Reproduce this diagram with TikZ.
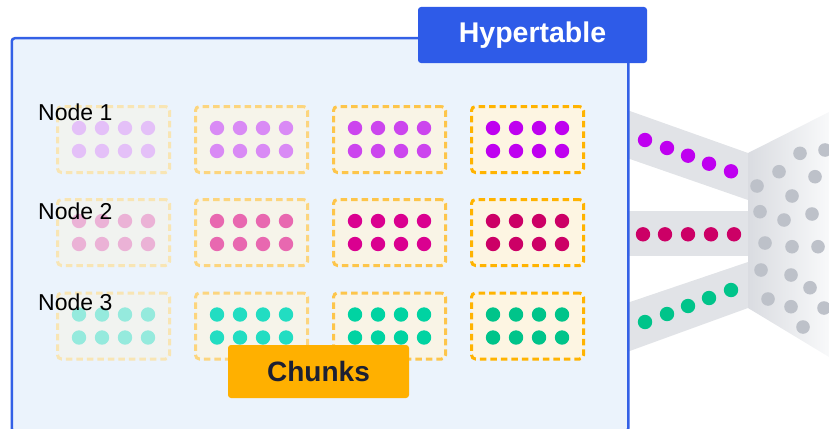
\documentclass[tikz,border=0pt]{standalone}
\usepackage{fontspec}
\setmainfont{Liberation Sans}
% panel colours
\definecolor{panelfill}{HTML}{EBF3FC}
\definecolor{panelline}{HTML}{3360E6}
\definecolor{tagblue}{HTML}{2E5BE8}
\definecolor{tagorange}{HTML}{FFB000}
\definecolor{tagtext}{HTML}{1C2033}
\definecolor{bandgray}{HTML}{E1E3E7}
\definecolor{funnelgray}{HTML}{DADCE1}
\definecolor{funnelend}{HTML}{F8F9FA}
\definecolor{pebble}{HTML}{BDC1C9}
% chunk borders and fills, from old (1) to new (4)
\definecolor{bd1}{HTML}{F8E5B4}
\definecolor{bd2}{HTML}{FCD57E}
\definecolor{bd3}{HTML}{FDC54A}
\definecolor{bd4}{HTML}{FFB300}
\definecolor{bg1}{HTML}{F1F3F0}
\definecolor{bg2}{HTML}{F6F4EA}
\definecolor{bg3}{HTML}{F9F4E6}
\definecolor{bg4}{HTML}{FDF5E2}
% row dot colours
\definecolor{d11}{HTML}{E4C0F8}
\definecolor{d12}{HTML}{D98AF5}
\definecolor{d13}{HTML}{CC45EE}
\definecolor{d14}{HTML}{BF00F0}
\definecolor{d21}{HTML}{EBB2D6}
\definecolor{d22}{HTML}{E868B0}
\definecolor{d23}{HTML}{DA0090}
\definecolor{d24}{HTML}{CC0066}
\definecolor{d31}{HTML}{95EADD}
\definecolor{d32}{HTML}{22DDC2}
\definecolor{d33}{HTML}{00D3A2}
\definecolor{d34}{HTML}{00C48A}
\begin{document}
\begin{tikzpicture}[x=1pt,y=-1pt,
  chunkbox/.style={line width=3pt, dash pattern=on 6.5pt off 4pt,
    rounded corners=4pt, minimum width=112pt, minimum height=66pt, inner sep=0pt},
  tag/.style={rounded corners=3pt, inner sep=0pt, font=\bfseries},
  rowlabel/.style={anchor=base west, inner sep=0pt,
    font=\fontsize{23}{25}\selectfont},
  band/.style={fill=bandgray}]
\useasboundingbox (0,0) rectangle (829,428);
\clip (0,0) rectangle (829,428);

% streams leaving the hypertable
\fill[band] (627,110) -- (748,153) -- (748,200) -- (627,158) -- cycle;
\fill[band] (627,211) -- (748,211) -- (748,256) -- (627,256) -- cycle;
\fill[band] (627,303) -- (748,262) -- (748,308) -- (627,352) -- cycle;
\shade[left color=funnelgray, right color=funnelend]
  (748,153) -- (829,112) -- (829,357) -- (748,308) -- cycle;

% rows travelling along the streams
\foreach \x/\y in {645/140, 667/148, 688/155.7, 709/163.7, 731/171.3}
  \fill[d14] (\x,\y) circle (7.2pt);
\foreach \x in {643,665,688,711,734}
  \fill[d24] (\x,234.3) circle (7.2pt);
\foreach \x/\y in {645/322, 667/314, 688/306, 709/298, 731/290}
  \fill[d34] (\x,\y) circle (7.2pt);

% scattered rows in the funnel
\foreach \x/\y in {800/153.3, 825/150, 779/171.7, 815/176.7, 757/186,
    792/196, 760/211.7, 784/220, 812/214, 765/243, 792/246.7, 818/246.7,
    761/270, 791/275, 810/287.7, 768/299, 791/306.7, 824/308, 803/327}
  \fill[pebble] (\x,\y) circle (6.8pt);

% hypertable panel
\node[draw=panelline, fill=panelfill, line width=2.5pt, rounded corners=3pt,
  anchor=north west, minimum width=616.5pt, minimum height=393pt, inner sep=0pt]
  (hyper) at (10.5,37) {};

% chunks: three nodes, four time ranges
\foreach \r/\cy in {1/139.5, 2/232.5, 3/326}
  \foreach \c/\cx in {1/113.5, 2/251.5, 3/389.5, 4/527.5} {
    \node[chunkbox, draw=bd\c, fill=bg\c] (ch\r\c) at (\cx,\cy) {};
    \foreach \dx in {-34.5,-11.5,11.5,34.5}
      \foreach \dy in {-11.5,11.5}
        \fill[color=d\r\c] ([shift={(\dx,\dy)}]ch\r\c.center) circle (7.2pt);
  }

\node[rowlabel] (node1) at (38,120) {Node 1};
\node[rowlabel] (node2) at (38,219) {Node 2};
\node[rowlabel] (node3) at (38,310) {Node 3};

\node[tag, fill=tagblue, text=white, minimum width=229pt, minimum height=56pt,
  font=\bfseries\fontsize{28.5}{30}\selectfont]
  (hypertag) at (532.5,35) {Hypertable};
\node[tag, fill=tagorange, text=tagtext, minimum width=181pt, minimum height=53pt,
  font=\bfseries\fontsize{28}{30}\selectfont]
  (chunkstag) at (318.5,371.5) {Chunks};
\end{tikzpicture}
\end{document}
